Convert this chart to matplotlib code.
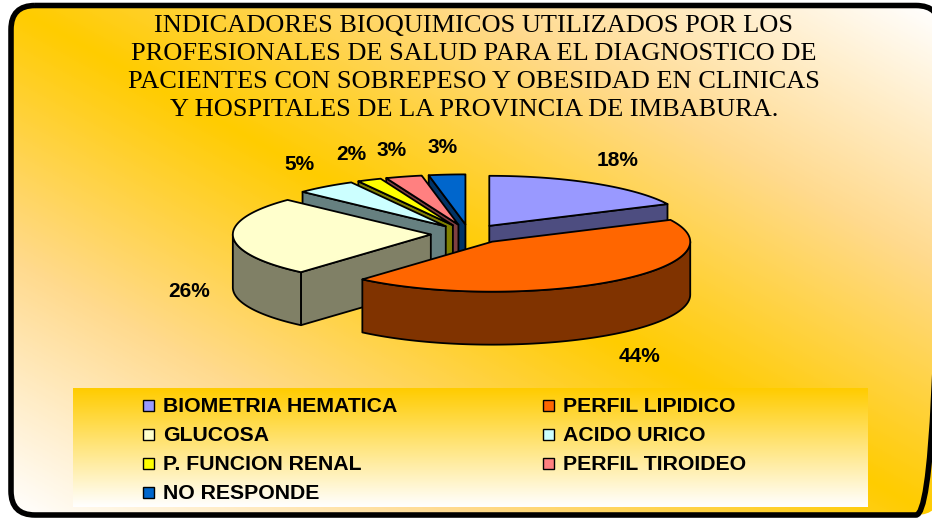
import numpy as np
import matplotlib
matplotlib.use("Agg")
import matplotlib.pyplot as plt
from matplotlib.patches import Polygon, Rectangle, FancyBboxPatch
from matplotlib.colors import LinearSegmentedColormap, to_rgb

# datos del grafico
CATEGORIES = [
    "BIOMETRIA HEMATICA",
    "PERFIL LIPIDICO",
    "GLUCOSA",
    "ACIDO URICO",
    "P. FUNCION RENAL",
    "PERFIL TIROIDEO",
    "NO RESPONDE",
]
PERCENTS = [18, 44, 26, 5, 2, 3, 3]
SLICE_COLORS = ["#9999FF", "#FF6600", "#FFFFCC", "#CCFFFF", "#FFFF00", "#FF8080", "#0066CC"]
TITLE_LINES = [
    "INDICADORES BIOQUIMICOS UTILIZADOS POR LOS",
    "PROFESIONALES DE SALUD PARA EL DIAGNOSTICO DE",
    "PACIENTES CON SOBREPESO Y OBESIDAD EN CLINICAS",
    "Y HOSPITALES DE LA PROVINCIA DE IMBABURA.",
]

W, H = 932, 518
fig = plt.figure(figsize=(W / 100, H / 100), dpi=100)
ax = fig.add_axes([0, 0, 1, 1])
ax.set_xlim(0, W)
ax.set_ylim(H, 0)
ax.axis("off")

# marco redondeado + fondo degradado diagonal
fx0, fy0, fx1, fy1 = 11, 5.5, 940, 515
frame = FancyBboxPatch(
    (fx0, fy0), fx1 - fx0, fy1 - fy0,
    boxstyle="round,pad=0,rounding_size=24",
    fc="none", ec="black", lw=4, zorder=20,
)
ax.add_patch(frame)

yy, xx = np.mgrid[0:H, 0:W]
u = (xx - fx0) / (932 - fx0)
v = (yy - fy0) / (fy1 - fy0)
d = np.clip(np.abs(u - v), 0, 1)
bg_cmap = LinearSegmentedColormap.from_list("bg", ["#FFCC00", "#FFDA8E", "#FFFFFF"])
im = ax.imshow(d, cmap=bg_cmap, vmin=0, vmax=1, extent=(0, W, H, 0),
               aspect="auto", interpolation="bilinear", zorder=0)
im.set_clip_path(frame)

# titulo
for i, line in enumerate(TITLE_LINES):
    ax.text(474, 31.7 + 28 * i, line, ha="center", va="baseline",
            family="Liberation Serif", fontsize=19, color="black", zorder=5)

# pastel 3D
CX, CY, RX, RY, DEPTH, EXPLODE = 469, 234, 198, 50, 53, 0.193


def ell(theta, r=1.0):
    t = np.radians(theta)
    return np.sin(t) * RX * r, -np.cos(t) * RY * r


def darker(c):
    return tuple(0.5 * np.array(to_rgb(c)))


fractions = np.array(PERCENTS) / sum(PERCENTS)
edges = np.concatenate([[0], np.cumsum(fractions) * 360])
mids = (edges[:-1] + edges[1:]) / 2
order = sorted(range(len(PERCENTS)), key=lambda i: -np.cos(np.radians(mids[i])))

edge_kw = dict(ec="black", lw=1.3, joinstyle="round")
z = 2
for i in order:
    a1, a2, mid = edges[i], edges[i + 1], mids[i]
    ox, oy = ell(mid, EXPLODE)
    ax0, ay0 = CX + ox, CY + oy
    side = darker(SLICE_COLORS[i])

    def radial(a):
        px, py = ell(a)
        return [(ax0, ay0), (ax0 + px, ay0 + py), (ax0 + px, ay0 + py + DEPTH), (ax0, ay0 + DEPTH)]

    if np.sin(np.radians(a1)) < -1e-6:
        ax.add_patch(Polygon(radial(a1), fc=side, zorder=z, **edge_kw))
    if np.sin(np.radians(a2)) > 1e-6:
        ax.add_patch(Polygon(radial(a2), fc=side, zorder=z, **edge_kw))
    w1, w2 = max(a1, 90), min(a2, 270)
    if w2 > w1:
        th = np.linspace(w1, w2, 80)
        px, py = ell(th)
        top = np.column_stack([ax0 + px, ay0 + py])
        bot = top[::-1] + [0, DEPTH]
        ax.add_patch(Polygon(np.vstack([top, bot]), fc=side, zorder=z, **edge_kw))
    th = np.linspace(a1, a2, 120)
    px, py = ell(th)
    top_face = np.vstack([[ax0, ay0], np.column_stack([ax0 + px, ay0 + py])])
    ax.add_patch(Polygon(top_face, fc=SLICE_COLORS[i], zorder=z + 0.5, **edge_kw))
    z += 1

    # etiqueta de porcentaje
    c = np.cos(np.radians(mid))
    lx = ax0 + 1.22 * RX * np.sin(np.radians(mid))
    ly = ay0 - 1.55 * RY * c + DEPTH * np.clip((0.5 - c) / 0.5, 0, 1)
    ax.text(lx, ly, f"{PERCENTS[i]}%", ha="center", va="center",
            family="Liberation Sans", fontweight="bold", fontsize=15, zorder=15)

# leyenda con degradado vertical
lx0, lx1, ly0, ly1 = 73, 868, 388, 507
leg_cmap = LinearSegmentedColormap.from_list("leg", ["#FFCC00", "#FFFFFF"])
ax.imshow(np.linspace(0, 1, 200).reshape(-1, 1), cmap=leg_cmap, vmin=0, vmax=1,
          extent=(lx0, lx1, ly1, ly0), aspect="auto", zorder=1)

for i, (name, col) in enumerate(zip(CATEGORIES, SLICE_COLORS)):
    row, colnum = divmod(i, 2)
    mx = 148 + 400 * colnum
    base = 411.7 + 29 * row
    ax.add_patch(Rectangle((mx - 5.5, base - 11.5), 11, 11, fc=col, ec="black", lw=1, zorder=3))
    ax.text(mx + 15, base, name, ha="left", va="baseline",
            family="Liberation Sans", fontweight="bold", fontsize=15.3, zorder=3)

ax.set_xlim(0, W)
ax.set_ylim(H, 0)
fig.savefig("out.png", dpi=100, facecolor="white")
